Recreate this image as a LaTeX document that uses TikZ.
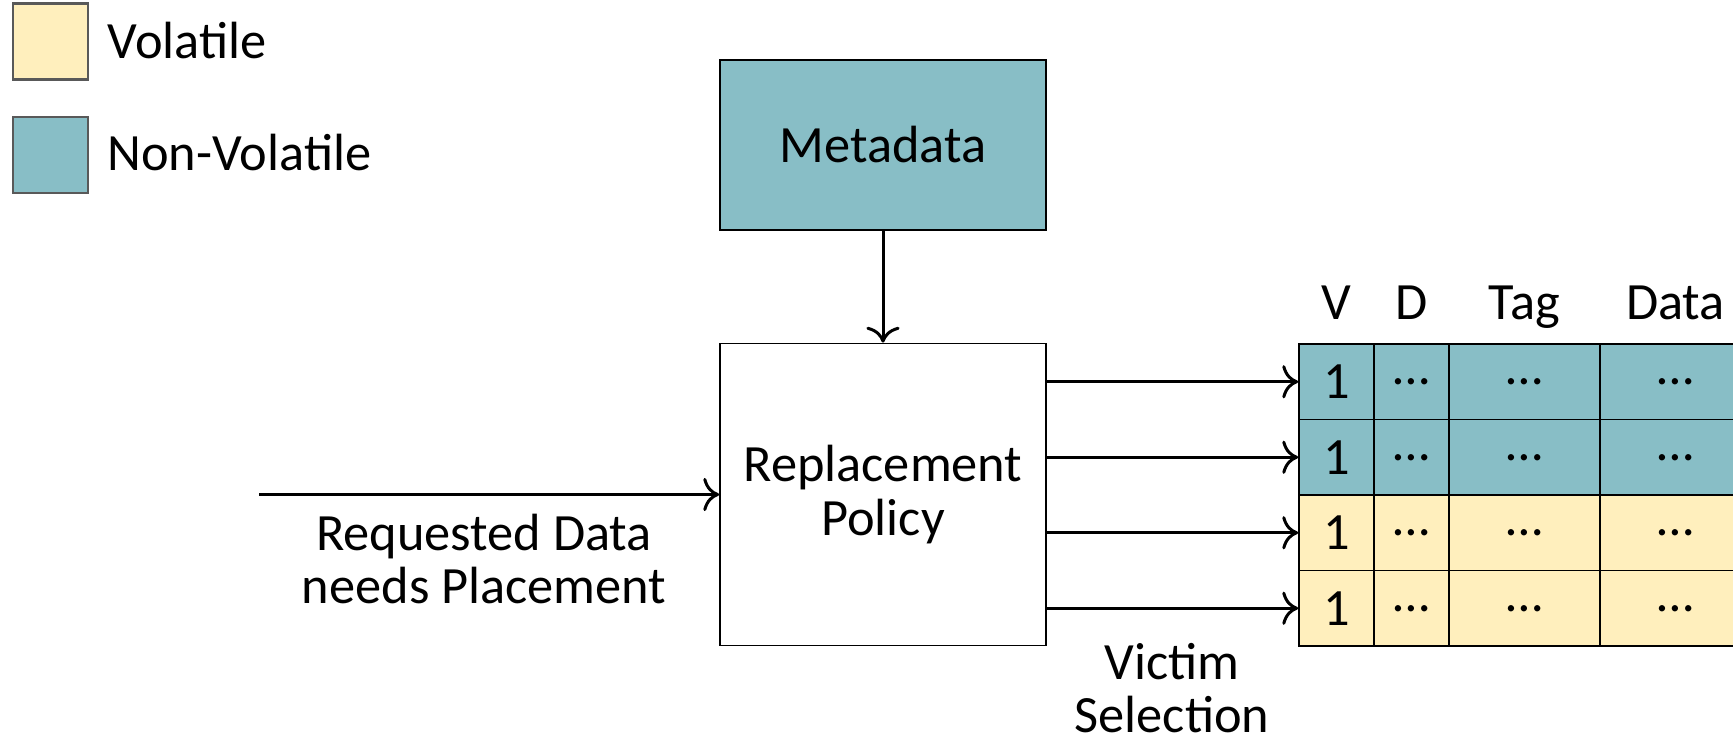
\documentclass[tikz,border=0pt]{standalone}
\usepackage{fontspec}
\setmainfont{Carlito}
\usepackage{tikz}
\usetikzlibrary{arrows.meta}

\definecolor{volcol}{HTML}{FFEFBD}
\definecolor{nvolcol}{HTML}{88BEC6}

\begin{document}
\begin{tikzpicture}[line width=0.85pt, >={To[scale=1.3]},
  every node/.style={font=\fontsize{14.9}{15.1}\selectfont, inner sep=0pt},
  legbox/.style={draw=black!65, line width=0.6pt, minimum width=0.755cm, minimum height=0.76cm},
  block/.style={draw, line width=0.5pt, minimum width=3.26cm},
  cell/.style={draw, line width=0.5pt, minimum height=0.755cm},
  lbl/.style={align=center}]

\useasboundingbox (0,0) rectangle (17.33,-7.42);

% legend
\node[legbox, fill=volcol]  (volbox)  at (0.505,-0.415) {};
\node[legbox, fill=nvolcol] (nvolbox) at (0.505,-1.55)  {};
\node[anchor=west] (vollbl)  at (1.06,-0.41) {Volatile};
\node[anchor=west] (nvollbl) at (1.06,-1.53) {Non-Volatile};

% policy and its metadata
\node[block, fill=nvolcol, minimum height=1.70cm] (meta) at (8.83,-1.45)  {Metadata};
\node[block, lbl, minimum height=3.02cm]          (repl) at (8.83,-4.945) {Replacement\\Policy};

\draw[->] (meta) -- (repl);

% incoming request
\coordinate (reqin) at (2.59,-4.945);
\draw[->] (reqin) -- (repl);
\node[lbl] (reqlbl) at (4.84,-5.59) {Requested Data\\needs Placement};

% cache set
\node[anchor=base] (hV)    at (13.365,-3.19) {V};
\node[anchor=base] (hD)    at (14.115,-3.19) {D};
\node[anchor=base] (hTag)  at (15.245,-3.19) {Tag};
\node[anchor=base] (hData) at (16.755,-3.19) {Data};

\foreach \r/\fc in {1/nvolcol,2/nvolcol,3/volcol,4/volcol} {
  \node[cell, fill=\fc, minimum width=0.75cm] (v\r)   at (13.365,{-3.44-0.755*(\r-0.5)}) {1};
  \node[cell, fill=\fc, minimum width=0.75cm] (d\r)   at (14.115,{-3.44-0.755*(\r-0.5)}) {…};
  \node[cell, fill=\fc, minimum width=1.51cm] (tag\r) at (15.245,{-3.44-0.755*(\r-0.5)}) {…};
  \node[cell, fill=\fc, minimum width=1.51cm] (dat\r) at (16.755,{-3.44-0.755*(\r-0.5)}) {…};
  \draw[->] (v\r.west -| repl.east) -- (v\r.west);
}

\node[lbl] (victim) at (11.72,-6.88) {Victim\\Selection};

\end{tikzpicture}
\end{document}
